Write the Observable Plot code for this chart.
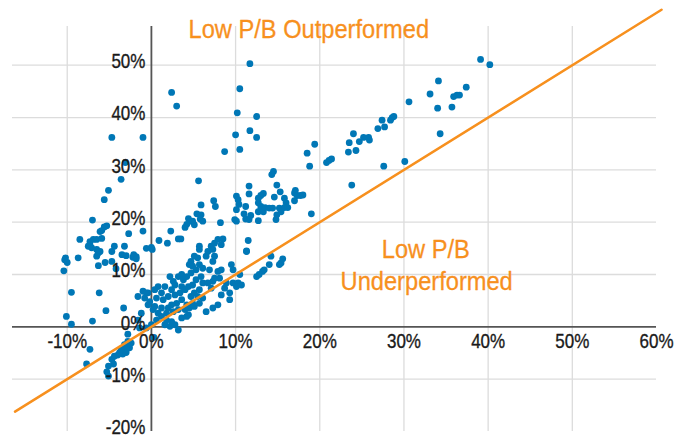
<!DOCTYPE html>
<html>
<head>
<meta charset="utf-8">
<script src="https://cdn.jsdelivr.net/npm/d3@7"></script>
<script src="https://cdn.jsdelivr.net/npm/@observablehq/plot@0.6"></script>
<style>
  html, body { margin: 0; padding: 0; background: #fff; }
  #chart svg { display: block; }
</style>
</head>
<body>
<div id="chart"></div>
<script>
// x: market return (%), y: low P/B return (%)
const points = [
  [2.4,44.8],[3.0,42.2],[11.7,50.3],[10.5,45.5],[10.2,40.9],[12.5,40.2],[10.0,36.7],[11.7,37.5],[12.5,36.2],[10.5,33.9],[8.7,33.5],[5.6,27.9],[18.5,33.2],[19.4,34.9],[18.8,30.7],[20.8,31.4],[21.1,31.8],[21.4,32.1],[19.0,21.6],
  [39.1,51.1],[40.2,50.1],[34.1,47.0],[33.1,44.5],[35.9,44.0],[36.3,44.3],[36.6,44.3],[37.4,45.8],[34.0,41.8],[35.7,42.0],[30.6,43.0],[34.3,36.9],[27.4,39.5],[27.7,38.2],[26.9,37.9],[28.4,39.5],[28.6,40.0],[28.8,40.2],[24.0,36.9],[23.5,35.2],[23.4,33.4],[24.3,33.7],[24.7,35.4],[25.2,36.2],[25.8,36.2],[25.9,35.7],[27.6,30.7],[30.1,31.6],[23.8,27.1],
  [13.3,25.5],[13.0,25.1],[12.7,24.6],[12.7,23.7],[13.0,23.0],[13.0,22.4],[12.7,22.0],[13.3,22.0],[13.5,22.8],[14.0,22.7],[14.4,22.7],[15.2,22.7],[15.4,22.0],[14.8,20.5],[14.9,21.4],[12.7,20.3],[10.1,25.0],[10.3,24.3],[10.4,23.4],[10.1,22.4],[9.9,20.5],[10.1,20.2],[11.2,23.0],[11.0,21.6],[11.2,20.6],[11.8,21.3],[11.6,20.5],[17.1,26.1],[17.0,25.6],[17.3,25.1],[17.7,25.1],[18.0,25.2],[17.0,24.1],[15.8,24.6],[16.0,23.7],[15.8,22.8],[16.2,22.8],[14.6,24.8],[15.3,25.8],[11.6,25.4],[11.6,26.9],[14.9,27.1],[14.5,29.7],[14.3,29.1],[7.4,24.1],[7.6,23.0],[5.9,23.3],[5.4,21.6],[5.9,21.4],[5.8,20.6],[6.1,20.2],[4.4,20.7],[4.7,20.2],[4.2,19.6],[4.0,19.0],[5.1,19.5],[4.9,20.2],[8.2,19.9],[2.3,18.3],[0.9,16.5],[1.9,16.0],[3.2,16.8],[3.5,16.8],[0.1,14.8],[11.5,16.5],[11.3,14.5],[5.7,15.4],[5.7,14.8],[7.1,15.4],[7.5,16.0],[7.9,16.7],[8.5,16.8],[8.3,15.7],[7.3,14.8],[7.5,13.5],[6.5,13.5],[5.5,13.2],[15.6,13.0],[15.4,12.2],
  [-4.7,36.2],[-1.0,36.2],[-3.1,31.4],[-3.6,28.2],[-5.1,26.1],[-5.6,24.3],[-7.0,20.4],[-5.3,19.3],[-5.6,19.1],[-5.9,18.4],[-6.1,18.2],[-8.5,16.7],[-7.3,16.3],[-6.9,16.7],[-6.5,16.7],[-5.9,16.9],[-7.5,15.4],[-7.1,15.1],[-7.3,15.7],[-6.5,14.8],[-6.3,14.1],[-6.1,14.4],[-6.5,13.5],[-2.7,17.8],[-4.4,15.4],[-3.2,15.4],[-4.7,14.4],[-1.0,18.3],[-3.5,13.8],[-2.1,13.8],[-1.8,13.4],[-0.6,15.0],[0.0,15.2],[-10.2,13.2],[-8.7,13.2],
  [-10.3,12.8],[-10.0,12.3],[-10.4,10.7],[-9.5,6.6],[-10.1,2.0],[-9.5,0.5],[-7.0,1.1],[-6.2,6.5],[-5.4,3.1],[-3.3,3.6],[-4.7,12.5],[-3.0,13.6],[-4.2,11.1],[-6.3,11.7],[-5.5,12.3],[-2.2,13.3],[-1.8,13.0],
  [-2.8,-1.4],[-2.6,-3.3],[-2.6,-4.0],[-3.0,-4.9],[-3.4,-5.2],[-4.0,-5.4],[-4.4,-5.6],[-4.7,-6.2],[-4.5,-7.1],[-5.1,-7.5],[-5.3,-8.6],[-7.7,-7.1],[-7.3,-4.3],[-3.8,-5.0],[-3.0,-4.4],[-2.4,-3.1],[-2.8,-2.8],[-3.2,-3.4],[-3.6,-4.4],[-5.1,-9.4],
  [5.1,13.5],[4.7,12.5],[4.5,11.9],[4.9,11.6],[5.3,10.9],[5.7,11.9],[6.1,11.2],[6.7,14.4],[7.3,12.5],[6.9,10.9],[7.9,10.6],[8.3,10.9],[9.5,11.9],[9.7,10.9],[10.5,10.0],[11.3,14.4],[14.0,11.9],[14.2,13.5],[15.2,11.9],[12.5,9.6],[12.8,10.0],[13.2,10.6],[13.4,10.9],
  [2.2,9.6],[2.6,8.7],[3.2,9.6],[3.6,10.0],[3.8,9.0],[4.2,9.6],[2.8,8.0],[3.6,7.7],[2.4,7.1],[1.6,7.7],[1.2,6.5],[0.8,7.7],[0.4,7.1],[-0.4,6.5],[-0.8,5.5],[-0.2,4.8],[0.6,5.5],[1.4,5.2],[2.0,5.8],[2.8,6.1],[3.4,6.5],[4.0,7.1],[4.4,7.7],[4.9,8.0],[5.3,9.0],[5.9,9.6],[6.1,8.4],[5.7,7.1],[5.1,6.5],[4.7,5.8],[5.5,5.8],[6.1,5.5],[5.7,4.5],[4.9,4.5],[4.2,4.2],[3.6,5.2],[3.0,4.5],[2.4,4.2],[2.0,3.6],[1.2,3.6],[0.4,3.9],[0.8,2.6],[1.8,2.6],[2.6,2.9],[3.2,3.3],[4.0,3.3],[4.5,3.6],[5.1,3.9],[8.3,6.1],[8.7,7.4],[8.9,8.4],[9.3,6.5],[9.7,8.4],[10.3,8.4],[10.7,8.0],[10.1,7.7],[9.3,5.2],[7.9,4.2],[7.3,3.6],[6.5,2.9],[7.1,7.4],[6.7,8.4],[7.3,8.7],[8.1,9.3],[7.5,9.3],[4.7,10.3],
  [1.2,2.0],[1.8,1.3],[2.4,1.0],[2.8,0.4],[3.2,-0.6],[2.2,0.1],[1.6,0.4],[0.6,1.3],[0.0,0.4],[-0.6,-0.2],[3.6,1.7],[4.2,2.0],[4.4,2.3],
  [-1.6,5.8],[-1.0,6.8],[-0.6,6.5],[-0.4,4.2],[0.2,3.3],[-1.2,2.6],[-1.6,1.3],[-1.4,-0.2],[0.3,-2.0]
];

const xTicks = [-10, 0, 10, 20, 30, 40, 50, 60];
const yTicks = [-20, -10, 0, 10, 20, 30, 40, 50];
const xGrid = [-10, 10, 20, 30, 40, 50];
const yGrid = [-10, 10, 20, 30, 40, 50];
const diagonal = [[-16.2, -16.2], [60.6, 60.6]];
const notes = [
  {label: "Low P/B Outperformed", x: 18.7, y: 56.8},
  {label: "Low P/B", x: 32.6, y: 14.8},
  {label: "Underperformed", x: 32.7, y: 8.7}
];

const font = "'Liberation Sans', Arial, sans-serif";
const pct = d => `${d}%`;

const chart = Plot.plot({
  width: 677,
  height: 436,
  marginLeft: 12,
  marginRight: 21,
  marginTop: 26,
  marginBottom: 5,
  style: {fontFamily: font, background: "#fff"},
  x: {domain: [-16.5, 60], axis: null},
  y: {domain: [-20, 57.4], axis: null},
  marks: [
    Plot.ruleX(xGrid, {stroke: "#dcdcdc", strokeWidth: 1.3}),
    Plot.ruleY(yGrid, {stroke: "#dcdcdc", strokeWidth: 1.3}),
    Plot.ruleX([0], {stroke: "#555", strokeWidth: 1.8}),
    Plot.ruleY([0], {stroke: "#555", strokeWidth: 1.8}),
    Plot.dot(points, {x: d => d[0], y: d => d[1], r: 3.4, fill: "#0077b6", stroke: "none"}),
    Plot.line(diagonal, {x: d => d[0], y: d => d[1], stroke: "#f7901e", strokeWidth: 2.5}),
    Plot.text(yTicks, {x: 0, y: d => d, text: pct, textAnchor: "end", dx: -6, dy: -3.5, fontSize: 20, fill: "#1a1a1a", stroke: "#1a1a1a", strokeWidth: 0.35}),
    Plot.text(xTicks, {x: d => d, y: 0, text: pct, textAnchor: "middle", dy: 14.5, fontSize: 20, fill: "#1a1a1a", stroke: "#1a1a1a", strokeWidth: 0.35}),
    Plot.text(notes, {x: "x", y: "y", text: "label", textAnchor: "middle", fontSize: 26, fill: "#f7901e", stroke: "#f7901e", strokeWidth: 0.3})
  ]
});
document.getElementById("chart").appendChild(chart);

// Condense the glyphs horizontally around each text's own anchor (mimics a condensed face)
chart.querySelectorAll("text").forEach(t => {
  const fs = parseFloat(getComputedStyle(t).fontSize);
  const sx = fs > 22 ? 0.91 : 0.85;
  const x = +t.getAttribute("x") || 0;
  const y = +t.getAttribute("y") || 0;
  const tr = t.getAttribute("transform") || "";
  t.setAttribute("transform", `${tr} translate(${x},${y}) scale(${sx},1) translate(${-x},${-y})`);
});
</script>
</body>
</html>
